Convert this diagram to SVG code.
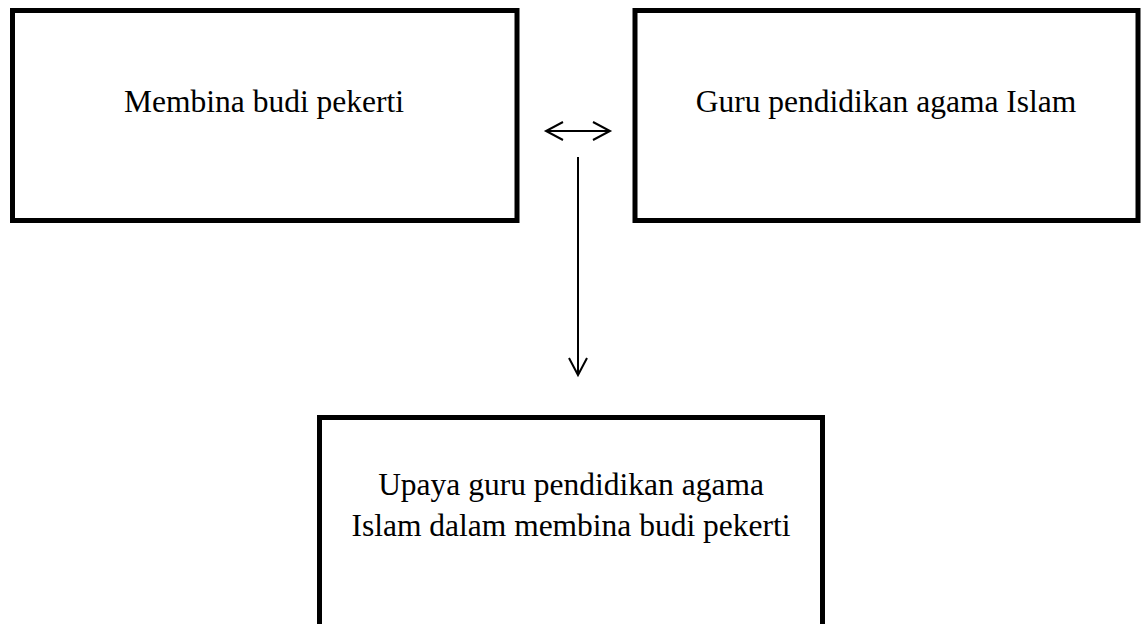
<svg xmlns="http://www.w3.org/2000/svg" width="1142" height="624" viewBox="0 0 1142 624">
  <style>
    .box { fill: #ffffff; stroke: #000000; stroke-width: 5; }
    .lbl { font-family: "Liberation Serif", "Times New Roman", serif; font-size: 31.5px; fill: #000000; text-anchor: middle; }
    .conn { stroke: #000000; stroke-width: 2; fill: none; }
  </style>
  <defs>
    <marker id="arr" markerUnits="userSpaceOnUse" markerWidth="22" markerHeight="22" refX="17" refY="9" orient="auto-start-reverse" viewBox="-2 -2 22 22">
      <path d="M0,0 L17,9 L0,18" fill="none" stroke="#000000" stroke-width="2"/>
    </marker>
  </defs>
  <rect x="0" y="0" width="1142" height="624" fill="#ffffff"/>
  <g id="node-membina">
    <rect class="box" x="12.5" y="10.5" width="504.5" height="210"/>
    <text class="lbl" x="264" y="112">Membina budi pekerti</text>
  </g>
  <g id="node-guru">
    <rect class="box" x="635" y="10.5" width="503" height="210"/>
    <text class="lbl" x="886" y="112">Guru pendidikan agama Islam</text>
  </g>
  <g id="node-upaya">
    <rect class="box" x="319.5" y="417.5" width="503" height="230"/>
    <text class="lbl" x="571" y="495">Upaya guru pendidikan agama</text>
    <text class="lbl" x="571" y="536">Islam dalam membina budi pekerti</text>
  </g>
  <g id="connectors">
    <line class="conn" x1="546" y1="131" x2="610" y2="131" marker-start="url(#arr)" marker-end="url(#arr)"/>
    <line class="conn" x1="578" y1="157" x2="578" y2="375" marker-end="url(#arr)"/>
  </g>
</svg>
